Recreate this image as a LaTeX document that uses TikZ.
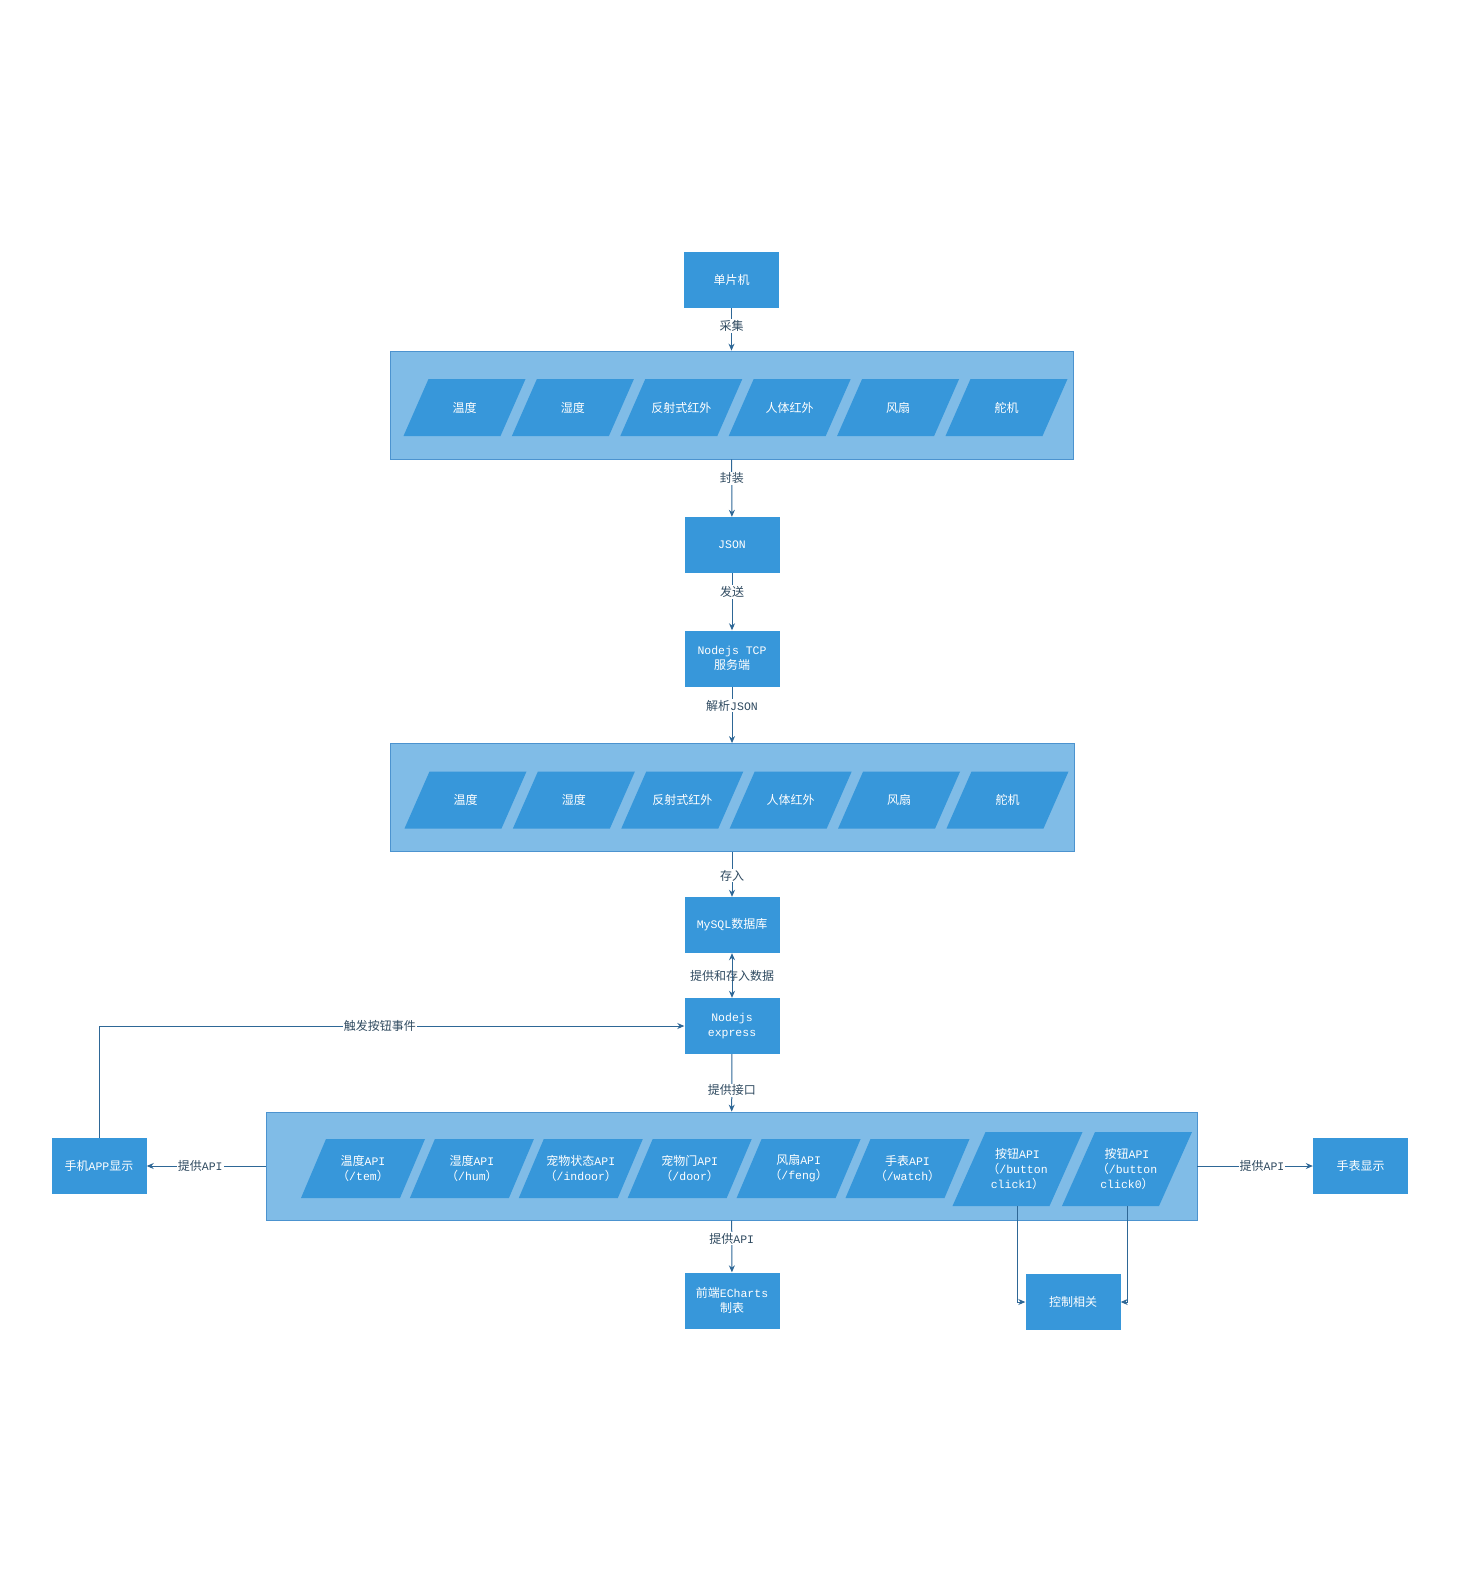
\documentclass[tikz,border=0pt]{standalone}
\usepackage{fontspec}
\setmainfont{Noto Sans CJK SC}
\newfontfamily\mono{Liberation Mono}
\usetikzlibrary{arrows.meta}

\definecolor{nodeblue}{HTML}{3797DA}
\definecolor{groupblue}{HTML}{80BCE7}
\definecolor{groupedge}{HTML}{4C93CF}
\definecolor{linkblue}{HTML}{2E6796}
\definecolor{labelgray}{HTML}{2F4A60}

% Latin parts are set in a monospaced serif
\newcommand{\en}[1]{{\mono\fontsize{11.5}{14.5}\selectfont #1}}

\tikzset{
  unit/.style={fill=nodeblue, minimum width=95pt, minimum height=56pt, inner sep=0pt,
    text=white, font=\fontsize{12}{14.5}\selectfont, align=center},
  group/.style={fill=groupblue, draw=groupedge, line width=0.8pt, inner sep=0pt},
  ptext/.style={text=white, font=\fontsize{12}{15}\selectfont, align=center, inner sep=0pt},
  link/.style={draw=linkblue, line width=1pt},
  arr/.style={-{Stealth[length=7pt,width=6pt]}},
  twoarr/.style={{Stealth[length=7pt,width=6pt]}-{Stealth[length=7pt,width=6pt]}},
  lbl/.style={fill=white, text=labelgray, font=\fontsize{12}{14}\selectfont, inner sep=1pt},
  openlbl/.style={text=labelgray, font=\fontsize{12}{14}\selectfont, inner sep=1pt},
}

% slanted data box: name, centre x, centre y, edge width, height, slant, text
\newcommand{\slantbox}[7]{%
  \fill[nodeblue] (#2-#4/2-#6/2, #3+#5/2) -- ++(#4,0) -- ++(#6,-#5) -- ++(-#4,0) -- cycle;
  \node[ptext, minimum width=#4pt, minimum height=#5pt] (#1) at (#2,#3) {#7};
}

\begin{document}
\begin{tikzpicture}[x=1pt, y=-1pt]
\useasboundingbox (0,0) rectangle (1480,1584);

% main processing chain
\node[unit] (mcu) at (731.5,280) {单片机};

\node[group, minimum width=683pt, minimum height=108pt] (raw) at (731.5,405) {};
\slantbox{r1}{464.5}{407.5}{97}{57}{25}{温度}
\slantbox{r2}{572.9}{407.5}{97}{57}{25}{湿度}
\slantbox{r3}{681.3}{407.5}{97}{57}{25}{反射式红外}
\slantbox{r4}{789.7}{407.5}{97}{57}{25}{人体红外}
\slantbox{r5}{898.1}{407.5}{97}{57}{25}{风扇}
\slantbox{r6}{1006.5}{407.5}{97}{57}{25}{舵机}

\node[unit] (json) at (732,545) {\en{JSON}};
\node[unit] (tcp) at (732,658.5) {\en{Nodejs TCP}\\服务端};

\node[group, minimum width=684pt, minimum height=108pt] (parsed) at (732,797.5) {};
\slantbox{p1}{465.5}{800}{97}{57}{25}{温度}
\slantbox{p2}{573.9}{800}{97}{57}{25}{湿度}
\slantbox{p3}{682.3}{800}{97}{57}{25}{反射式红外}
\slantbox{p4}{790.7}{800}{97}{57}{25}{人体红外}
\slantbox{p5}{899.1}{800}{97}{57}{25}{风扇}
\slantbox{p6}{1007.5}{800}{97}{57}{25}{舵机}

\node[unit] (mysql) at (732,925) {\en{MySQL}数据库};
\node[unit] (express) at (732,1026) {\en{Nodejs}\\\en{express}};

\node[group, minimum width=931pt, minimum height=108pt] (apis) at (731.5,1166) {};
\slantbox{a1}{363}{1168.5}{99}{59}{25}{温度\en{API}\\（\en{/tem}）}
\slantbox{a2}{471.9}{1168.5}{99}{59}{25}{湿度\en{API}\\（\en{/hum}）}
\slantbox{a3}{580.8}{1168.5}{99}{59}{25}{宠物状态\en{API}\\（\en{/indoor}）}
\slantbox{a4}{689.7}{1168.5}{99}{59}{25}{宠物门\en{API}\\（\en{/door}）}
\slantbox{a5}{798.6}{1168.5}{99}{59}{25}{风扇\en{API}\\（\en{/feng}）}
\slantbox{a6}{907.5}{1168.5}{99}{59}{25}{手表\en{API}\\（\en{/watch}）}
\slantbox{b1}{1017.5}{1169}{97}{74}{33}{按钮\en{API}\\（\en{/button}\\\en{click1}）}
\slantbox{b0}{1127}{1169}{97}{74}{33}{按钮\en{API}\\（\en{/button}\\\en{click0}）}

\node[unit] (app) at (99,1166) {手机\en{APP}显示};
\node[unit] (watch) at (1360.5,1166) {手表显示};
\node[unit] (chart) at (732,1300.5) {前端\en{ECharts}\\制表};
\node[unit] (ctrl) at (1073,1302) {控制相关};

% connectors
\draw[link, arr] (mcu) -- node[lbl, pos=0.42] {采集} (raw);
\draw[link, arr] (raw) -- node[lbl, pos=0.33] {封装} (json);
\draw[link, arr] (json) -- node[lbl, pos=0.33] {发送} (tcp);
\draw[link, arr] (tcp) -- node[lbl, pos=0.34] {解析\en{JSON}} (parsed);
\draw[link, arr] (parsed) -- node[lbl, pos=0.53] {存入} (mysql);
\draw[link, twoarr] (mysql) -- node[openlbl, pos=0.5] {提供和存入数据} (express);
\draw[link, arr] (express) -- node[lbl, pos=0.63] {提供接口} (apis);
\draw[link, arr] (apis) -- node[lbl, pos=0.35] {提供\en{API}} (chart);
\draw[link, arr] (apis.west) -- node[lbl, pos=0.55] {提供\en{API}} (app.east);
\draw[link, arr] (apis.east) -- node[lbl, pos=0.56] {提供\en{API}} (watch.west);
\draw[link, arr] (app.north) |- node[lbl, pos=0.74] {触发按钮事件} (express.west);
\draw[link, arr] (b1.south) |- (ctrl.west);
\draw[link, arr] (b0.south) |- (ctrl.east);
\end{tikzpicture}
\end{document}
